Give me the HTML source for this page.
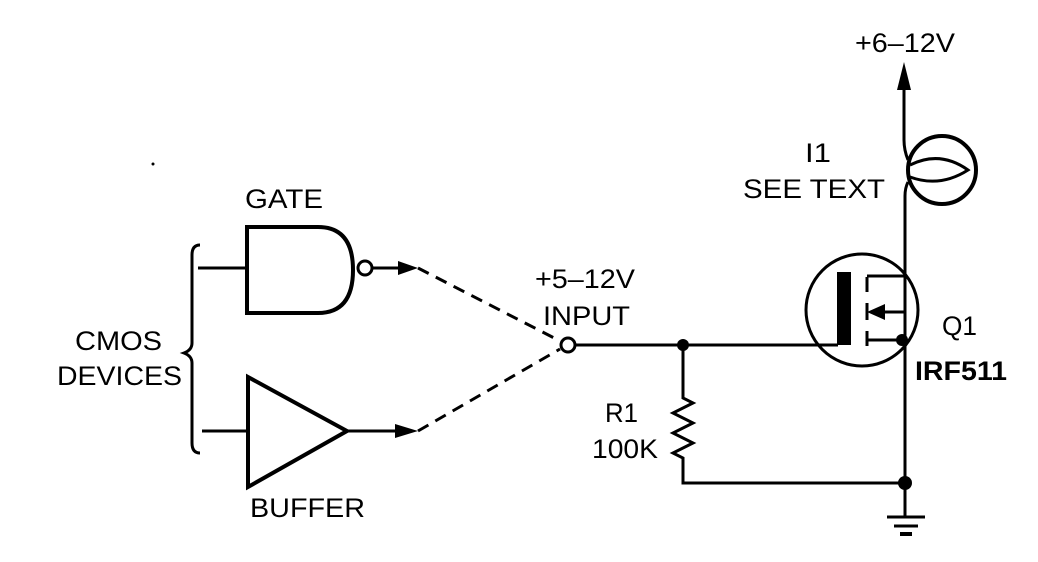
<!DOCTYPE html>
<html><head><style>
html,body{margin:0;padding:0;background:#fff;}
svg{display:block;}
text{font-family:"Liberation Sans",sans-serif;font-size:27px;fill:#000;}
</style></head><body>
<svg width="1038" height="562" viewBox="0 0 1038 562" xmlns="http://www.w3.org/2000/svg">
<g fill="none" stroke="#000" stroke-width="3">
<path d="M200 245 Q192 245 192 255 L192 343 Q192 350 184 353 Q192 356 192 363 L192 443 Q192 453 200 453"/>
<path d="M247 227 L318 227 Q353 227 353 270 Q353 313 318 313 L247 313 Z" stroke-width="4"/>
<line x1="198" y1="268" x2="247" y2="268"/>
<circle cx="365" cy="268" r="7"/>
<line x1="372" y1="268" x2="398" y2="268"/>
<path d="M248 377 L347 431 L248 487 Z" stroke-width="4"/>
<line x1="202" y1="431" x2="248" y2="431"/>
<line x1="347" y1="431" x2="395" y2="431"/>
<line x1="418" y1="268" x2="560" y2="341" stroke-dasharray="12 8"/>
<line x1="418" y1="431" x2="560" y2="349" stroke-dasharray="12 8"/>
<circle cx="568" cy="345" r="7"/>
<line x1="575" y1="345" x2="838" y2="345"/>
<path d="M683 345 L683 398 L693 403 L673 413 L693 423 L673 433 L693 443 L673 453 L683 458 L683 483 L905 483"/>
<circle cx="862" cy="310" r="56"/>
<line x1="867" y1="277" x2="867" y2="292"/>
<line x1="867" y1="303" x2="867" y2="320"/>
<line x1="867" y1="331" x2="867" y2="346"/>
<line x1="867" y1="276" x2="905" y2="276"/>
<path d="M880 312 L905 312 L905 340"/>
<line x1="867" y1="340" x2="905" y2="340"/>
<path d="M904 90 L904 140 Q904 150 908 160"/>
<path d="M908 182 Q905 188 905 196 L905 517"/>
<circle cx="942" cy="170" r="34" stroke-width="4"/>
<path d="M910 165 Q940 150 968 170 Q940 188 910 177"/>
<line x1="887" y1="517" x2="925" y2="517"/>
<line x1="894" y1="526" x2="918" y2="526"/>
<line x1="900" y1="534" x2="912" y2="534" stroke-width="4"/>
</g>
<g fill="#000">
<rect x="837" y="272" width="14" height="73"/>
<polygon points="398,261 418,268 398,275"/>
<polygon points="395,424 418,431 395,438"/>
<polygon points="867,312 885,304 885,320"/>
<polygon points="897,90 904,62 911,90"/>
<circle cx="683" cy="345" r="6"/>
<circle cx="902" cy="340" r="6"/>
<circle cx="905" cy="483" r="7"/>
<circle cx="153" cy="164" r="1.5"/>
</g>
<text x="855" y="52" textLength="100" lengthAdjust="spacingAndGlyphs">+6–12V</text>
<text x="805" y="162" textLength="26" lengthAdjust="spacingAndGlyphs">I1</text>
<text x="743" y="198" textLength="142" lengthAdjust="spacingAndGlyphs">SEE TEXT</text>
<text x="942" y="335" textLength="35" lengthAdjust="spacingAndGlyphs">Q1</text>
<text x="915" y="380" font-weight="bold" textLength="92" lengthAdjust="spacingAndGlyphs">IRF511</text>
<text x="535" y="288" textLength="100" lengthAdjust="spacingAndGlyphs">+5–12V</text>
<text x="543" y="325" textLength="87" lengthAdjust="spacingAndGlyphs">INPUT</text>
<text x="605" y="422" textLength="33" lengthAdjust="spacingAndGlyphs">R1</text>
<text x="592" y="458" textLength="66" lengthAdjust="spacingAndGlyphs">100K</text>
<text x="75" y="350" textLength="87" lengthAdjust="spacingAndGlyphs">CMOS</text>
<text x="57" y="385" textLength="125" lengthAdjust="spacingAndGlyphs">DEVICES</text>
<text x="245" y="208" textLength="78" lengthAdjust="spacingAndGlyphs">GATE</text>
<text x="250" y="517" textLength="115" lengthAdjust="spacingAndGlyphs">BUFFER</text>
</svg>
</body></html>
